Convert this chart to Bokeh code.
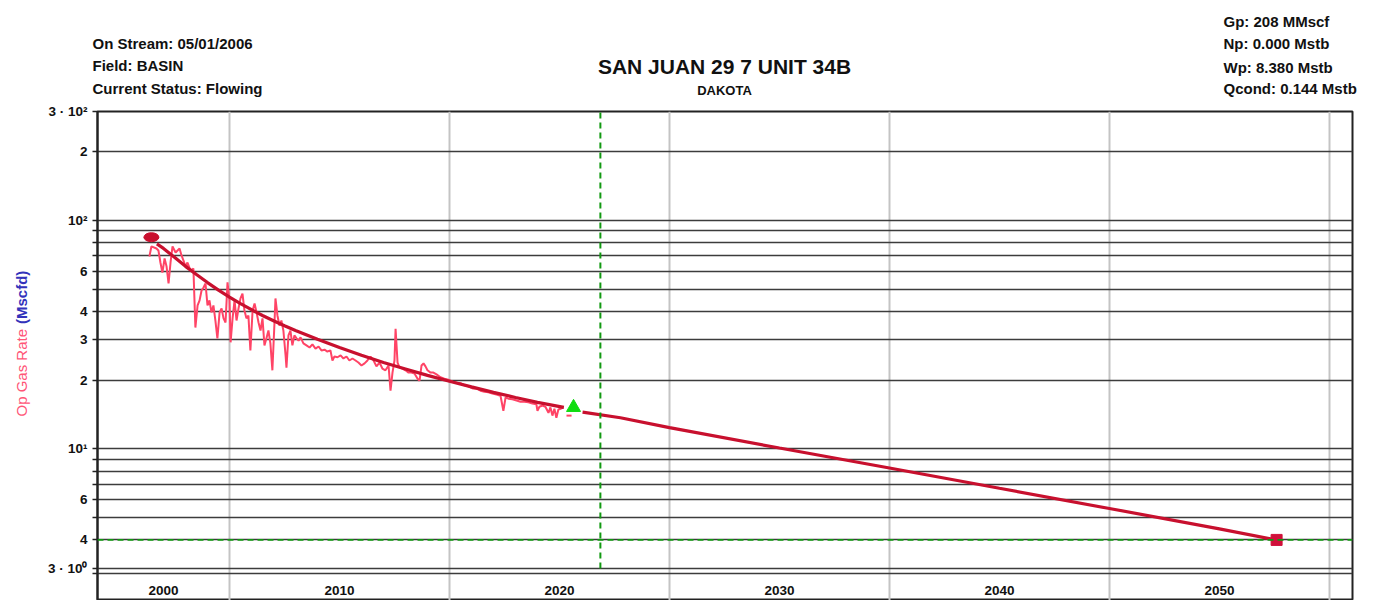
import math
from bokeh.plotting import figure
from bokeh.layouts import column, row
from bokeh.models import Range1d, FixedTicker, Grid, Span
from bokeh.core.properties import value
from bokeh.embed import file_html
from bokeh.resources import INLINE

# ---------------- data ----------------
prod_year = [2006.36, 2006.45, 2006.68, 2006.77, 2006.86, 2006.95, 2007.05, 2007.14, 2007.23, 2007.32,
             2007.41, 2007.55, 2007.64, 2007.73, 2007.82, 2007.91, 2008.00, 2008.09, 2008.23, 2008.36,
             2008.45, 2008.55, 2008.64, 2008.73, 2008.82, 2008.91, 2009.00, 2009.09, 2009.18, 2009.27,
             2009.36, 2009.45, 2009.55, 2009.64, 2009.73, 2009.82, 2009.91, 2010.00, 2010.05, 2010.14,
             2010.23, 2010.32, 2010.41, 2010.50, 2010.59, 2010.68, 2010.77, 2010.86, 2010.95, 2011.05,
             2011.14, 2011.23, 2011.32, 2011.41, 2011.50, 2011.59, 2011.68, 2011.77, 2011.86, 2011.95,
             2012.05, 2012.09, 2012.18, 2012.27, 2012.36, 2012.45, 2012.55, 2012.59, 2012.68, 2012.77,
             2012.86, 2012.95, 2013.05, 2013.14, 2013.23, 2013.36, 2013.50, 2013.64, 2013.77, 2013.91,
             2014.05, 2014.18, 2014.32, 2014.45, 2014.59, 2014.68, 2014.77, 2014.91, 2015.05, 2015.18,
             2015.32, 2015.45, 2015.59, 2015.73, 2015.86, 2016.00, 2016.14, 2016.27, 2016.41, 2016.55,
             2016.68, 2016.82, 2016.95, 2017.09, 2017.23, 2017.32, 2017.41, 2017.50, 2017.55, 2017.64,
             2017.73, 2017.86, 2018.00, 2018.14, 2018.27, 2018.41, 2018.55, 2018.64, 2018.73, 2018.82,
             2018.91, 2019.00, 2019.14, 2019.27, 2019.41, 2019.59, 2019.77, 2019.95, 2020.14, 2020.32,
             2020.50, 2020.68, 2020.86, 2021.05, 2021.23, 2021.41, 2021.59, 2021.77, 2021.95, 2022.14,
             2022.32, 2022.45, 2022.55, 2022.68, 2022.86, 2023.05, 2023.23, 2023.41, 2023.59, 2023.77,
             2023.95, 2024.00, 2024.09, 2024.23, 2024.36, 2024.50, 2024.59, 2024.68, 2024.77, 2024.86,
             2024.95, 2025.05, 2025.18]
prod_rate = [69.6, 77.0, 75.4, 73.9, 65.5, 59.2, 68.2, 62.9, 53.0, 65.5,
             77.0, 72.4, 73.9, 75.4, 70.3, 66.8, 62.9, 65.5, 60.4, 61.6,
             34.0, 42.5, 44.7, 49.4, 50.9, 53.0, 42.5, 44.7, 39.6, 42.5,
             36.5, 30.5, 39.6, 41.2, 37.3, 35.8, 53.6, 44.7, 29.3, 37.3,
             44.7, 36.5, 41.2, 45.6, 47.9, 40.4, 37.3, 38.4, 27.0, 40.4,
             43.3, 39.6, 35.8, 33.0, 37.3, 28.4, 30.5, 33.0, 29.0, 22.1,
             36.5, 45.6, 38.4, 34.7, 36.5, 33.0, 25.7, 22.7, 31.4, 33.0,
             28.4, 31.4, 30.5, 29.8, 30.8, 29.0, 28.4, 27.8, 28.7, 27.5,
             28.1, 27.0, 27.2, 26.7, 27.0, 24.4, 25.4, 25.2, 25.7, 24.9,
             25.4, 24.4, 24.9, 24.4, 23.9, 23.2, 23.7, 24.4, 25.4, 24.4,
             23.0, 23.9, 22.5, 22.1, 23.2, 18.0, 21.6, 24.4, 33.6, 23.9,
             22.7, 22.5, 22.1, 21.6, 21.6, 21.4, 20.3, 19.9, 23.2, 23.7,
             23.0, 22.1, 21.6, 21.6, 21.2, 20.6, 20.3, 20.1, 19.7, 19.5,
             19.4, 19.0, 18.8, 18.4, 18.4, 18.0, 17.8, 17.7, 17.5, 17.3,
             17.1, 14.7, 16.8, 16.6, 16.5, 16.3, 16.1, 16.1, 16.0, 15.8,
             15.7, 14.7, 15.3, 15.5, 15.3, 14.4, 15.2, 14.0, 15.0, 13.7,
             14.9, 15.0, 15.2]
last_year = [2025.32, 2025.55]
last_rate = [14.0, 14.0]

fit_year = [2006.70, 2007.0, 2007.5, 2008.0, 2008.5, 2009.0, 2009.5, 2010.0, 2010.5, 2011.0,
            2011.5, 2012.0, 2012.5, 2013.0, 2014.0, 2015.0, 2016.0, 2017.0, 2018.0, 2019.0,
            2020.0, 2021.0, 2022.0, 2023.0, 2024.0, 2025.2]
fit_rate = [79.0, 75.5, 69.0, 63.0, 58.0, 53.5, 49.6, 46.2, 43.3, 40.7,
            38.4, 36.4, 34.6, 33.0, 30.2, 27.8, 25.7, 23.9, 22.4, 21.0,
            19.8, 18.7, 17.7, 16.8, 16.0, 15.2]

fc_year = [2026.05, 2027.77, 2030.0, 2035.0, 2040.0, 2045.0, 2050.0, 2055.0, 2057.6]
fc_rate = [14.5, 13.7, 12.4, 10.1, 8.26, 6.73, 5.49, 4.47, 4.0]

start_year, start_rate = [2006.45], [84.5]
lastpt_year, lastpt_rate = [2025.64], [15.2]
end_year, end_rate = [2057.6], [4.0]
now_year = 2026.86
econ_limit = 4.0

y_ticks = [2.85, 3, 4, 5, 6, 7, 8, 9, 10, 20, 30, 40, 50, 60, 70, 80, 90, 100, 200, 300]
y_tick_labels = {3: "3 · 10⁰", 4: "4", 6: "6", 10: "10¹", 20: "2", 30: "3", 40: "4",
                 60: "6", 100: "10²", 200: "2", 300: "3 · 10²"}
decades = [2000, 2010, 2020, 2030, 2040, 2050, 2060]
x_start, x_end = 2004.0, 2061.05
y_bottom, y_top = 2.172, 300.0

left_info = ["On Stream: 05/01/2006", "Field: BASIN", "Current Status: Flowing"]
right_info = ["Gp: 208 MMscf", "Np: 0.000 Mstb", "Wp: 8.380 Mstb", "Qcond: 0.144 Mstb"]
title_text = "SAN JUAN 29 7 UNIT 34B"
subtitle_text = "DAKOTA"
ylabel_parts = ["Op Gas Rate", "(Mscfd)"]

# ---------------- layout sizes ----------------
W, TOTAL_H = 1372, 600
HDR_H = 103
LEFT_W = 40
MAIN_H = TOTAL_H - HDR_H
FONT = "Liberation Sans"


def blank_fig(w, h):
    f = figure(width=w, height=h, x_range=Range1d(0, w), y_range=Range1d(0, h),
               x_axis_location=None, y_axis_location=None, toolbar_location=None,
               output_backend="svg", min_border=0)
    f.outline_line_color = None
    f.grid.visible = False
    f.background_fill_color = "white"
    f.border_fill_color = "white"
    return f


# ---------------- header ----------------
hdr = blank_fig(W, HDR_H)
hdr.text(x=[92] * 3, y=[HDR_H - 43, HDR_H - 65, HDR_H - 88], text=left_info,
         text_font=value(FONT), text_font_style="bold", text_font_size="15px",
         text_align="left", text_baseline="alphabetic", text_color="#111111")
hdr.text(x=[1223] * 4, y=[HDR_H - 21, HDR_H - 43, HDR_H - 67, HDR_H - 88], text=right_info,
         text_font=value(FONT), text_font_style="bold", text_font_size="15px",
         text_align="left", text_baseline="alphabetic", text_color="#111111")
hdr.text(x=[724], y=[HDR_H - 66], text=[title_text], text_font=value(FONT),
         text_font_style="bold", text_font_size="21px", text_align="center",
         text_baseline="alphabetic", text_color="#111111")
hdr.text(x=[724], y=[HDR_H - 90], text=[subtitle_text], text_font=value(FONT),
         text_font_style="bold", text_font_size="13px", text_align="center",
         text_baseline="alphabetic", text_color="#111111")

# ---------------- y-axis title strip ----------------
lft = blank_fig(LEFT_W, MAIN_H)
lft.text(x=[21], y=[TOTAL_H - 413], text=[ylabel_parts[0]], angle=math.pi / 2,
         text_font=value(FONT), text_font_size="15px", text_align="left",
         text_baseline="alphabetic", text_color="#ff5577")
lft.text(x=[21], y=[TOTAL_H - 319], text=[ylabel_parts[1]], angle=math.pi / 2,
         text_font=value(FONT), text_font_style="bold", text_font_size="15px",
         text_align="left", text_baseline="alphabetic", text_color="#3333bb")

# ---------------- main plot ----------------
p = figure(width=W - LEFT_W, height=MAIN_H, y_axis_type="log",
           x_range=Range1d(x_start, x_end), y_range=Range1d(y_bottom, y_top),
           x_axis_location=None, toolbar_location=None, output_backend="svg",
           min_border_left=57, min_border_right=20, min_border_top=8, min_border_bottom=0)
p.background_fill_color = "white"
p.border_fill_color = "white"
p.outline_line_color = "#222222"
p.outline_line_width = 2

p.center = []
p.add_layout(Grid(dimension=0, ticker=FixedTicker(ticks=decades),
                  grid_line_color="#c4c4c4", grid_line_width=2))
p.add_layout(Grid(dimension=1, ticker=FixedTicker(ticks=y_ticks),
                  grid_line_color="#3c3c3c", grid_line_width=1.6))

ax = p.yaxis[0]
ax.ticker = FixedTicker(ticks=y_ticks)
ax.major_label_overrides = {t: y_tick_labels.get(t, "") for t in y_ticks}
ax.axis_line_color = "#222222"
ax.axis_line_width = 2
ax.major_tick_out = 5
ax.major_tick_in = 0
ax.major_tick_line_color = "#222222"
ax.major_tick_line_width = 1.6
ax.minor_tick_out = 0
ax.minor_tick_in = 0
ax.major_label_standoff = 5
ax.major_label_text_font = FONT
ax.major_label_text_font_style = "bold"
ax.major_label_text_font_size = "13.5px"
ax.major_label_text_color = "#111111"

# year labels centred in the visible part of each decade band
lab_x, lab_t = [], []
for d in decades:
    lo, hi = max(d, x_start), min(d + 10, x_end)
    if hi - lo > 3:
        lab_x.append((lo + hi) / 2)
        lab_t.append(str(d))
p.text(x=lab_x, y=[3] * len(lab_x), text=lab_t, y_offset=22, text_align="center",
       text_baseline="middle", text_font=value(FONT), text_font_style="bold",
       text_font_size="13.5px", text_color="#111111")

# lines
p.line(prod_year, prod_rate, line_color="#ff4466", line_width=2)
p.line(last_year, last_rate, line_color="#ff4466", line_width=2)
p.line(fit_year, fit_rate, line_color="#c8102e", line_width=3.2)
p.line(fc_year, fc_rate, line_color="#c8102e", line_width=3.2)

p.add_layout(Span(location=econ_limit, dimension="width", line_color="#119911",
                  line_width=1.8, line_dash="6 4"))
p.segment(x0=[now_year], y0=[3], x1=[now_year], y1=[y_top], line_color="#119911",
          line_width=2, line_dash="6 4")

p.ellipse(x=start_year, y=start_rate, width=15, height=9, width_units="screen",
          height_units="screen", fill_color="#c8102e", line_color="#c8102e")
p.scatter(lastpt_year, lastpt_rate, marker="triangle", size=14, fill_color="#11dd11",
          line_color="#11dd11")
p.scatter(end_year, end_rate, marker="square", size=11, fill_color="#d0103a",
          line_color="#d0103a")

layout = column(hdr, row(lft, p, spacing=0), spacing=0)
open("out.html", "w").write(file_html(layout, INLINE))
